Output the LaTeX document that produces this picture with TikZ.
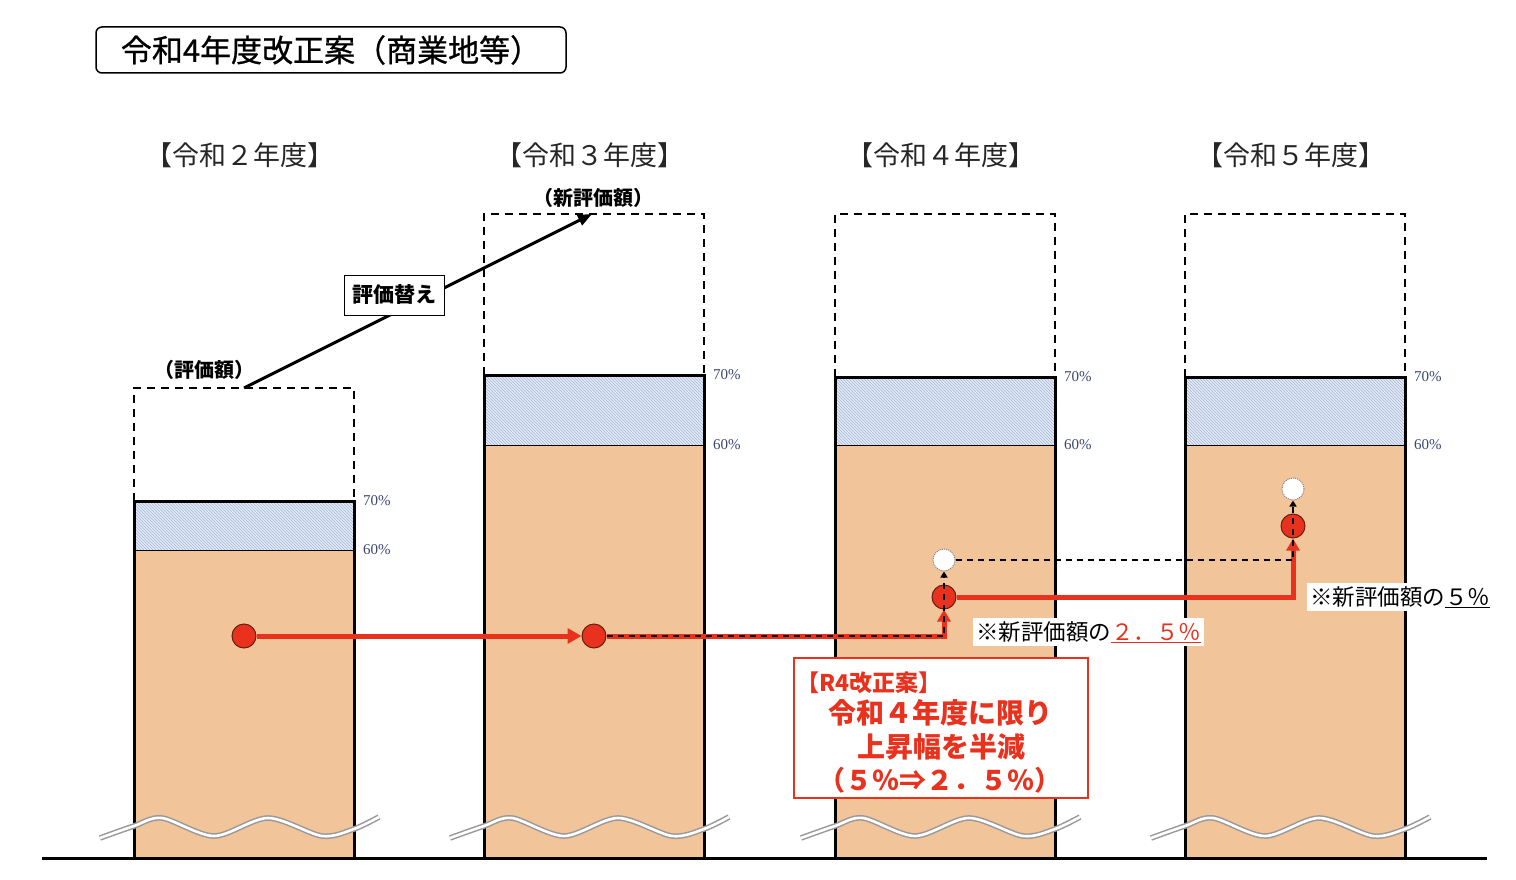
\documentclass[tikz,border=0pt]{standalone}
\usepackage{fontspec}
\setmainfont{Liberation Serif}
\newfontfamily\jp{Noto Sans CJK JP}
\newfontfamily\jpmed{Noto Sans CJK JP}[FakeBold=0.8]
\usetikzlibrary{patterns,arrows.meta}
\definecolor{orng}{RGB}{241,196,153}
\definecolor{rd}{RGB}{232,50,30}
\definecolor{rddark}{RGB}{100,30,20}
\definecolor{hatchbg}{RGB}{228,235,246}
\definecolor{hatchln}{RGB}{165,182,215}
\definecolor{pctcol}{RGB}{60,70,115}
\tikzset{
  barline/.style={line width=3pt,black},
  dashline/.style={line width=2.3pt,black,dash pattern=on 8pt off 6pt},
  wave/.style={draw=gray!80,line width=1.5pt,double=white,double distance=2.6pt},
  pct/.style={font=\fontsize{15}{17}\selectfont,text=pctcol,inner sep=2pt,anchor=west,xshift=7pt,yshift=-5pt},
  hdr/.style={font=\jp\fontsize{27}{30}\selectfont,text=black!85},
  redc/.style={circle,fill=rd,draw=rddark,line width=1pt,minimum size=24pt,inner sep=0pt},
  whc/.style={circle,fill=white,draw=gray,densely dotted,line width=1pt,minimum size=22pt,inner sep=0pt},
  redln/.style={rd,line width=5pt},
  blkdash/.style={black,line width=1.6pt,dash pattern=on 6pt off 5pt},
  lbl/.style={font=\jp\fontsize{22.5}{24}\selectfont,fill=white,inner sep=3pt},
  rtxt/.style={text=rd,inner sep=0pt},
}
\begin{document}
\begin{tikzpicture}[x=1pt,y=-1pt]
\useasboundingbox (0,0) rectangle (1516,880);

% title
\node[draw,rounded corners=6pt,line width=1.5pt,minimum width=470pt,minimum height=46pt,
  font=\jpmed\fontsize{31}{34}\selectfont] (title) at (331,50) {令和4年度改正案（商業地等）};

% bars
\foreach \x/\top/\ht/\hb/\lab [count=\i] in
  {134/388/501/550/２, 484/214/375/445/３, 835/214/377/445/４, 1185/214/377/445/５}{
  \fill[orng] (\x,\hb) rectangle (\x+220,858);
  \fill[hatchbg] (\x,\ht) rectangle (\x+220,\hb);
  \fill[pattern=north west lines,pattern color=hatchln] (\x,\ht) rectangle (\x+220,\hb);
  \draw[black,line width=0.8pt] (\x,\hb) -- (\x+220,\hb);
  \draw[barline] (\x,858) -- (\x,\ht) -- (\x+220,\ht) -- (\x+220,858);
  \draw[dashline] (\x,\ht) -- (\x,\top) -- (\x+220,\top) -- (\x+220,\ht);
  \draw[wave] plot[smooth] coordinates {(\x-34,838) (\x,826) (\x+28,818) (\x+80,836) (\x+134,818) (\x+188,836) (\x+220,829) (\x+245,817)};
  \node[pct] (p70-\i) at (\x+220,\ht) {70\%};
  \node[pct] (p60-\i) at (\x+220,\hb) {60\%};
  \node[hdr] (h-\i) at (\x+106,167) {【令和\lab 年度】};
}

% ground
\draw[line width=3pt] (42,858) -- (1487,858);

% revaluation arrow
\coordinate (v1) at (244,388);
\coordinate (v2) at (592,214);
\draw[line width=3pt,-{Triangle[length=14pt,width=11pt]}] (v1) -- (v2);
\node[draw,fill=white,line width=1pt,minimum width=100pt,minimum height=40pt,
  font=\jp\bfseries\fontsize{21}{23}\selectfont] (kae) at (394,295) {評価替え};
\node[font=\jp\bfseries\fontsize{20}{22}\selectfont] (hyo) at (204,370) {（評価額）};
\node[font=\jp\bfseries\fontsize{20}{22}\selectfont] (shin) at (593,198) {（新評価額）};

% circles
\node[redc] (c1) at (244,636) {};
\node[redc] (c2) at (594,636) {};
\node[redc] (c3) at (944,597) {};
\node[whc] (w3) at (944,560) {};
\node[redc] (c4) at (1293,526) {};
\node[whc] (w4) at (1293,489) {};

% connectors
\draw[redln,-{Triangle[length=14pt,width=15pt]}] (c1) -- (c2);
\draw[redln,-{Triangle[length=12pt,width=13pt]}] (c2) -| (c3);
\draw[blkdash,-{Triangle[length=6pt,width=7pt]}] (c2) -| (w3);
\draw[redln,-{Triangle[length=12pt,width=13pt]}] (c3) -| (c4);
\draw[blkdash,-{Triangle[length=6pt,width=7pt]}] (w3) -| (w4);

% labels
\node[lbl,anchor=west] (l25) at (973,632) {※新評価額の{\color{rd}\underline{２．５％}}};
\node[lbl,anchor=west] (l5) at (1307,597) {※新評価額の\underline{５％}};

% red box
\node[draw=rd,line width=1.5pt,fill=white,minimum width=294pt,minimum height=140pt] (rbox) at (941,728) {};
\node[rtxt,anchor=west,font=\jp\bfseries\fontsize{23}{25}\selectfont] (r0) at (796,683) {【R4改正案】};
\node[rtxt,font=\jp\bfseries\fontsize{28}{30}\selectfont] (r1) at (940,713) {令和４年度に限り};
\node[rtxt,font=\jp\bfseries\fontsize{28}{30}\selectfont] (r2) at (941,747) {上昇幅を半減};
\node[rtxt,font=\jp\bfseries\fontsize{27}{30}\selectfont] (r3) at (940,780) {（５％⇒２．５％）};
\end{tikzpicture}
\end{document}
